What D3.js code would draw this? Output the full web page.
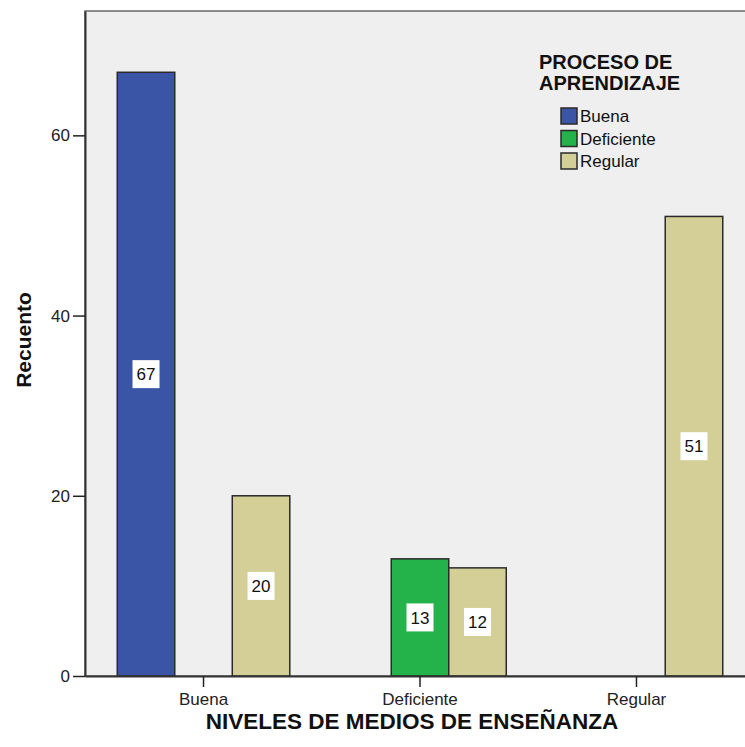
<!DOCTYPE html>
<html><head><meta charset="utf-8">
<script src="https://cdn.jsdelivr.net/npm/d3@7"></script>
<style>body{margin:0;background:#fff}svg{display:block;font-family:"Liberation Sans",Arial,sans-serif}</style>
</head><body><svg id="c" width="745" height="747"></svg>
<script>
const categories = ["Buena", "Deficiente", "Regular"];
const series = ["Buena", "Deficiente", "Regular"];
const valuesBuena = [67, 0, 0];
const valuesDeficiente = [0, 13, 0];
const valuesRegular = [20, 12, 51];
const yTicks = [0, 20, 40, 60];
const colors = ["#3b55a6", "#24b24a", "#d4cf96"];
const xTitle = "NIVELES DE MEDIOS DE ENSEÑANZA";
const yTitle = "Recuento";
const legendTitle = ["PROCESO DE", "APRENDIZAJE"];

const seriesValues = [valuesBuena, valuesDeficiente, valuesRegular];
const svg = d3.select("#c");
const L = 85, R = 755, T = 11, B = 676;

const x0 = d3.scaleBand().domain(categories).range([L, R]).paddingInner(0.203).paddingOuter(0.149);
const x1 = d3.scaleBand().domain(series).range([0, x0.bandwidth()]);
const y = d3.scaleLinear().domain([0, 73.8]).range([B, T]);
const color = d3.scaleOrdinal().domain(series).range(colors);

svg.append("rect").attr("x", L).attr("y", T).attr("width", R - L).attr("height", B - T)
  .attr("fill", "#efefef").attr("stroke", "#6a6a6a").attr("stroke-width", 1.5);

const data = [];
categories.forEach((c, i) => series.forEach((s, j) => data.push({c, s, v: seriesValues[j][i]})));
const nz = data.filter(d => d.v > 0);

svg.append("g").selectAll("rect").data(nz).join("rect")
  .attr("x", d => x0(d.c) + x1(d.s))
  .attr("y", d => y(d.v))
  .attr("width", x1.bandwidth())
  .attr("height", d => y(0) - y(d.v))
  .attr("fill", d => color(d.s))
  .attr("stroke", "#2a2a2a").attr("stroke-width", 1.5);

const lab = svg.append("g").selectAll("g").data(nz).join("g")
  .attr("transform", d => `translate(${x0(d.c) + x1(d.s) + x1.bandwidth() / 2},${y(d.v / 2)})`);
lab.append("rect").attr("x", -13.5).attr("y", -14).attr("width", 27).attr("height", 28).attr("fill", "#fff");
lab.append("text").attr("text-anchor", "middle").attr("dy", "0.36em").attr("font-size", 17).attr("fill", "#111").text(d => d.v);

// axes
const ya = svg.append("g").attr("transform", `translate(${L},0)`)
  .call(d3.axisLeft(y).tickValues(yTicks).tickSize(12).tickSizeOuter(0).tickPadding(3).tickFormat(d3.format("d")));
ya.select(".domain").attr("stroke", "#333").attr("stroke-width", 2);
ya.selectAll(".tick line").attr("stroke", "#222").attr("stroke-width", 1.5);
ya.selectAll(".tick text").attr("font-size", 17).attr("fill", "#222").attr("font-family", "Liberation Sans, Arial, sans-serif");

const xa = svg.append("g").attr("transform", `translate(0,${B})`)
  .call(d3.axisBottom(x0).tickSize(11).tickSizeOuter(0).tickPadding(6));
xa.select(".domain").attr("stroke", "#333").attr("stroke-width", 2);
xa.selectAll(".tick line").attr("stroke", "#222").attr("stroke-width", 1.5);
xa.selectAll(".tick text").attr("font-size", 17).attr("fill", "#222").attr("font-family", "Liberation Sans, Arial, sans-serif");

svg.append("text").attr("x", 412).attr("y", 729).attr("text-anchor", "middle")
  .attr("font-size", 22.5).attr("font-weight", "bold").attr("fill", "#111").text(xTitle);
svg.append("text").attr("transform", "translate(31,340) rotate(-90)").attr("text-anchor", "middle")
  .attr("font-size", 21).attr("font-weight", "bold").attr("fill", "#111").text(yTitle);

// legend
const lg = svg.append("g");
lg.selectAll("text.t").data(legendTitle).join("text").attr("class", "t")
  .attr("x", 539).attr("y", (d, i) => 69 + i * 21)
  .attr("font-size", 20).attr("font-weight", "bold").attr("fill", "#111").text(d => d);
const items = lg.selectAll("g.i").data(series).join("g").attr("class", "i")
  .attr("transform", (d, i) => `translate(561,${108 + i * 22.5})`);
items.append("rect").attr("width", 16).attr("height", 16).attr("fill", d => color(d))
  .attr("stroke", "#2a2a2a").attr("stroke-width", 1.5);
items.append("text").attr("x", 19).attr("y", 14).attr("font-size", 17).attr("fill", "#111").text(d => d);
</script></body></html>
